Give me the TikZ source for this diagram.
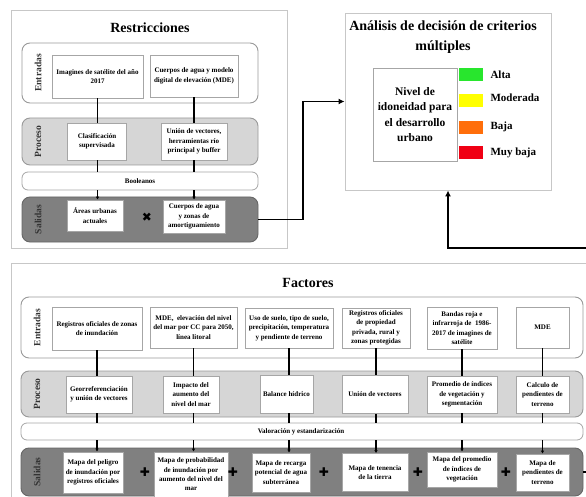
\documentclass[tikz,border=0pt]{standalone}
\usepackage{fontspec}
\setmainfont{Liberation Serif}
\newfontfamily\symfont{DejaVu Sans}
\usetikzlibrary{arrows.meta}

\definecolor{legalta}{RGB}{40,230,45}
\definecolor{legmoderada}{RGB}{255,255,0}
\definecolor{legbaja}{RGB}{255,110,10}
\definecolor{legmuybaja}{RGB}{240,0,20}

\tikzset{
  frame/.style={draw=black!22, line width=0.9pt, inner sep=0pt},
  band/.style={draw=black!40, line width=0.9pt, rounded corners=8pt, inner sep=0pt, fill=white},
  procband/.style={band, fill=black!16},
  outband/.style={band, draw=black!60, fill=black!50},
  sidelabel/.style={rotate=90, font=\bfseries\fontsize{9.5}{11}\selectfont, text=black!80},
  smallbox/.style={draw=black!35, fill=white, line width=0.8pt, align=center, inner sep=1pt,
    font=\bfseries\fontsize{7}{9.4}\selectfont},
  bigtitle/.style={font=\bfseries\fontsize{14}{20}\selectfont, align=center},
  legendtext/.style={font=\bfseries\fontsize{11}{13}\selectfont, anchor=west},
  swatch/.style={minimum width=24pt, minimum height=13pt, inner sep=0pt},
  opsign/.style={font=\symfont\fontsize{12}{12}\selectfont, inner sep=0pt},
  link/.style={line width=1.3pt},
  linkarrow/.style={line width=1.3pt, -{Latex[length=3pt,width=3.5pt]}},
  mainlink/.style={line width=1.8pt, -{Latex[length=6pt,width=6pt]}}
}

\begin{document}
\begin{tikzpicture}[x=1pt, y=-1pt]
\useasboundingbox (0,0) rectangle (586,497);
\clip (0,0) rectangle (586,497);

% Restricciones
\node[frame, minimum width=276pt, minimum height=238pt] (rframe) at (149,129) {};
\node[bigtitle] (rtitle) at (150,28) {Restricciones};

\node[band, minimum width=236pt, minimum height=60pt] (rent) at (140,73) {};
\node[sidelabel] (rentlab) at (38,73) {Entradas};
\node[procband, minimum width=236pt, minimum height=47pt] (rpro) at (140,141.5) {};
\node[sidelabel] (rprolab) at (38,141.5) {Proceso};
\node[band, minimum width=236pt, minimum height=18pt, smallbox, draw=black!35, rounded corners=6pt] (rbool) at (140,181) {Booleanos};
\node[outband, minimum width=236pt, minimum height=45pt] (rsal) at (140,219.5) {};
\node[sidelabel] (rsallab) at (38,219.5) {Salidas};

\node[smallbox, minimum width=91pt, minimum height=43pt] (ri1) at (97.5,76.5) {Imagines de satélite del año\\2017};
\node[smallbox, minimum width=88pt, minimum height=42pt] (ri2) at (194,76) {Cuerpos de agua y modelo\\digital de elevación (MDE)};
\node[smallbox, minimum width=59pt, minimum height=37pt] (rp1) at (97,141.5) {Clasificación\\supervisada};
\node[smallbox, minimum width=66pt, minimum height=37pt] (rp2) at (194,141.5) {Unión de vectores,\\herramientas río\\principal y buffer};
\node[smallbox, minimum width=56pt, minimum height=31pt] (ro1) at (95,215.5) {Áreas urbanas\\actuales};
\node[smallbox, minimum width=62pt, minimum height=33pt] (ro2) at (194,216.5) {Cuerpos de agua\\y zonas de\\amortiguamiento};
\node[opsign] (rtimes) at (147,217) {✖};

\draw[link] (ri1.south) -- (ri1.south |- rp1.north);
\draw[link] (ri2.south) -- (ri2.south |- rp2.north);
\draw[link] (ri1.south |- rp1.south) -- (ri1.south |- rbool.north);
\draw[link] (ri2.south |- rp2.south) -- (ri2.south |- rbool.north);
\draw[linkarrow] (ri1.south |- rbool.south) -- (ri1.south |- ro1.north);
\draw[linkarrow] (ri2.south |- rbool.south) -- (ri2.south |- ro2.north);

% Analisis de decision
\node[frame, minimum width=206pt, minimum height=177pt] (ana) at (448,101.5) {};
\node[bigtitle] (anatitle) at (443,37) {Análisis de decisión de criterios\\múltiples};
\node[smallbox, minimum width=84pt, minimum height=93pt, font=\bfseries\fontsize{11.5}{15.5}\selectfont] (nivel) at (415,114.5) {Nivel de\\idoneidad para\\el desarrollo\\urbano};
\node[swatch, fill=legalta] (sw1) at (471,74.5) {};
\node[swatch, fill=legmoderada] (sw2) at (471,101) {};
\node[swatch, fill=legbaja] (sw3) at (471,128) {};
\node[swatch, fill=legmuybaja] (sw4) at (471,153) {};
\node[legendtext] (lab1) at (487,75) {Alta};
\node[legendtext] (lab2) at (487,98) {Moderada};
\node[legendtext] (lab3) at (487,127) {Baja};
\node[legendtext] (lab4) at (487,153) {Muy baja};

% Factores
\node[frame, minimum width=584pt, minimum height=250pt] (fframe) at (303,388) {};
\node[bigtitle] (ftitle) at (308,283) {Factores};

\node[band, minimum width=562pt, minimum height=61pt] (fent) at (302,327.5) {};
\node[sidelabel] (fentlab) at (37,327.5) {Entradas};
\node[procband, minimum width=562pt, minimum height=46pt] (fpro) at (302,394) {};
\node[sidelabel] (fprolab) at (37,394) {Proceso};
\node[band, minimum width=562pt, minimum height=17pt, smallbox, draw=black!35, rounded corners=6pt] (fval) at (302,431.5) {};
\node[font=\bfseries\fontsize{7}{9}\selectfont] (fvallab) at (301,432) {Valoración y estandarización};
\node[outband, minimum width=562pt, minimum height=48pt] (fsal) at (302,472) {};
\node[sidelabel] (fsallab) at (37,472) {Salidas};

\node[smallbox, minimum width=90pt, minimum height=43pt] (fi1) at (97,328.5) {Registros oficiales de zonas\\de inundación};
\node[smallbox, minimum width=87pt, minimum height=41pt] (fi2) at (193.5,327.5) {MDE,~ elevación del nivel\\del mar por CC para 2050,\\línea litoral};
\node[smallbox, minimum width=88pt, minimum height=40pt] (fi3) at (289,328) {Uso de suelo, tipo de suelo,\\precipitación, temperatura\\y pendiente de terreno};
\node[smallbox, minimum width=68pt, minimum height=40pt] (fi4) at (376,328) {Registros oficiales\\de propiedad\\privada, rural y\\zonas protegidas};
\node[smallbox, minimum width=70pt, minimum height=42pt] (fi5) at (462,328) {Bandas roja e\\infrarroja de~ 1986-\\2017 de imagines de\\satélite};
\node[smallbox, minimum width=53pt, minimum height=41pt] (fi6) at (542.5,327.5) {MDE};

\node[smallbox, minimum width=66pt, minimum height=37pt] (fp1) at (99,394.5) {Georreferenciación\\y unión de vectores};
\node[smallbox, minimum width=56pt, minimum height=37pt] (fp2) at (191,394.5) {Impacto del\\aumento del\\nivel del mar};
\node[smallbox, minimum width=53pt, minimum height=38pt] (fp3) at (286.5,394) {Balance hídrico};
\node[smallbox, minimum width=66pt, minimum height=38pt] (fp4) at (375,394.5) {Unión de vectores};
\node[smallbox, minimum width=70pt, minimum height=37pt] (fp5) at (462,394.5) {Promedio de índices\\de vegetación y\\segmentación};
\node[smallbox, minimum width=53pt, minimum height=37pt] (fp6) at (542.5,394.5) {Calculo de\\pendientes de\\terreno};

\node[smallbox, minimum width=60pt, minimum height=41pt] (fo1) at (93,472.5) {Mapa del peligro\\de inundación por\\registros oficiales};
\node[smallbox, minimum width=74pt, minimum height=45pt] (fo2) at (191,474.5) {Mapa de probabilidad\\de inundación por\\aumento del nivel del\\mar};
\node[smallbox, minimum width=58pt, minimum height=39pt] (fo3) at (281,472.5) {Mapa de recarga\\potencial de agua\\subterránea};
\node[smallbox, minimum width=66pt, minimum height=38pt] (fo4) at (375,472.5) {Mapa de tenencia\\de la tierra};
\node[smallbox, minimum width=70pt, minimum height=35pt] (fo5) at (462,469.5) {Mapa del promedio\\de índices de\\vegetación};
\node[smallbox, minimum width=53pt, minimum height=37pt] (fo6) at (542.5,472.5) {Mapa de\\pendientes de\\terreno};

\node[opsign] (plus1) at (145,472) {✚};
\node[opsign] (plus2) at (233,472) {✚};
\node[opsign] (plus3) at (324,472) {✚};
\node[opsign] (plus4) at (418,472) {✚};
\node[opsign] (plus5) at (506,472) {✚};

\draw[link] (fi1.south) -- (fi1.south |- fp1.north);
\draw[link] (fi2.south) -- (fi2.south |- fp2.north);
\draw[link] (fi3.south) -- (fi3.south |- fp3.north);
\draw[link] (fi4.south) -- (fi4.south |- fp4.north);
\draw[link] (fi5.south) -- (fi5.south |- fp5.north);
\draw[link] (fi6.south) -- (fi6.south |- fp6.north);
\draw[link] (fi1.south |- fp1.south) -- (fi1.south |- fval.north);
\draw[link] (fi2.south |- fp2.south) -- (fi2.south |- fval.north);
\draw[link] (fi3.south |- fp3.south) -- (fi3.south |- fval.north);
\draw[link] (fi4.south |- fp4.south) -- (fi4.south |- fval.north);
\draw[link] (fi5.south |- fp5.south) -- (fi5.south |- fval.north);
\draw[link] (fi6.south |- fp6.south) -- (fi6.south |- fval.north);
\draw[linkarrow] (fi1.south |- fval.south) -- (fi1.south |- fo1.north);
\draw[linkarrow] (fi2.south |- fval.south) -- (fi2.south |- fo2.north);
\draw[linkarrow] (fi3.south |- fval.south) -- (fi3.south |- fo3.north);
\draw[linkarrow] (fi4.south |- fval.south) -- (fi4.south |- fo4.north);
\draw[linkarrow] (fi5.south |- fval.south) -- (fi5.south |- fo5.north);
\draw[linkarrow] (fi6.south |- fval.south) -- (fi6.south |- fo6.north);

% Conectores al analisis
\coordinate (rbend) at (303,219.5);
\coordinate (fbend) at (598,248);
\draw[mainlink] (rsal.east) -- (rbend) |- (ana.west);
\draw[mainlink] (fsal.east) -| (fbend) -| (ana.south);
\end{tikzpicture}
\end{document}
